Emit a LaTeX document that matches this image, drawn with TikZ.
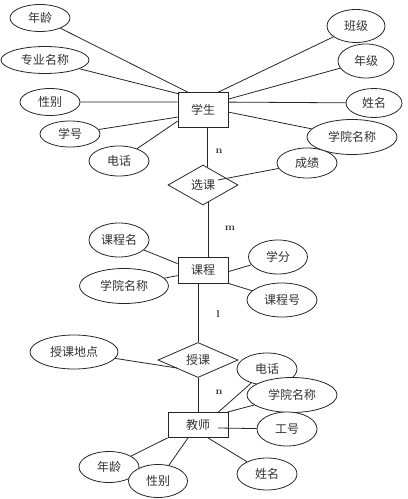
\documentclass[tikz,border=0pt]{standalone}
\usepackage{fontspec}
\newfontfamily\cjk{Noto Sans CJK SC}
\usetikzlibrary{shapes.geometric,calc,backgrounds}
\begin{document}
\begin{tikzpicture}[x=0.75pt,y=-0.75pt,
  every node/.style={inner sep=0pt, text=black!80},
  attr/.style={ellipse, draw=black!85, fill=white, line width=0.6pt, font=\cjk\fontsize{9}{9}\selectfont},
  ent/.style={rectangle, draw=black!85, line width=0.6pt, font=\cjk\fontsize{9}{9}\selectfont},
  rel/.style={diamond, draw=black!85, line width=0.6pt, font=\cjk\fontsize{9}{9}\selectfont},
  conn/.style={draw=black!85, line width=0.6pt},
  lbl/.style={font=\bfseries\fontsize{7.5}{7.5}\selectfont}]
\useasboundingbox (0,0) rectangle (407,499);

% entities
\node[ent, minimum width=37.5pt, minimum height=26.25pt] (S) at (203,110) {学生};
\node[ent, minimum width=37.5pt, minimum height=19.5pt] (K) at (203,270) {课程};
\node[ent, minimum width=45pt, minimum height=18.75pt] (T) at (198,425) {教师};
% relationships
\node[rel, minimum width=52.5pt, minimum height=30pt] (XK) at (203,185) {选课};
\node[rel, minimum width=60pt, minimum height=25.5pt] (SK) at (198,360) {授课};

% student attributes
\node[attr, minimum width=45pt, minimum height=20.25pt] (a1) at (40,18) {年龄};
\node[attr, minimum width=66pt, minimum height=20.25pt] (a2) at (45,60) {专业名称};
\node[attr, minimum width=45pt, minimum height=20.25pt] (a3) at (50,102) {性别};
\node[attr, minimum width=45pt, minimum height=19.5pt] (a4) at (70,134) {学号};
\node[attr, minimum width=45pt, minimum height=22.5pt] (a5) at (119,161) {电话};
\node[attr, minimum width=43.5pt, minimum height=24.75pt] (b1) at (356,26) {班级};
\node[attr, minimum width=42pt, minimum height=25.5pt] (b2) at (366,61) {年级};
\node[attr, minimum width=42pt, minimum height=21.75pt] (b3) at (374,103) {姓名};
\node[attr, minimum width=67.5pt, minimum height=26.25pt] (b4) at (352,137) {学院名称};
\node[attr, minimum width=45pt, minimum height=22.5pt] (b5) at (307,163) {成绩};

% course attributes
\node[attr, minimum width=45pt, minimum height=25.5pt] (c1) at (119,240) {课程名};
\node[attr, minimum width=66.75pt, minimum height=26.25pt] (c2) at (124,286) {学院名称};
\node[attr, minimum width=44.25pt, minimum height=25.5pt] (c3) at (278,257) {学分};
\node[attr, minimum width=52.5pt, minimum height=25.5pt] (c4) at (282,300) {课程号};

% teaching attribute
\node[attr, minimum width=66pt, minimum height=25.5pt] (d1) at (74,352) {授课地点};

% teacher attributes
\node[attr, minimum width=45pt, minimum height=24pt] (e1) at (267,369) {电话};
\node[attr, minimum width=67.5pt, minimum height=26.25pt] (e2) at (292,395) {学院名称};
\node[attr, minimum width=45pt, minimum height=25.5pt] (e3) at (287,429) {工号};
\node[attr, minimum width=45pt, minimum height=24pt] (e4) at (267,474) {姓名};
\node[attr, minimum width=45pt, minimum height=23.25pt] (e5) at (109,467) {年龄};
\node[attr, minimum width=44.25pt, minimum height=24.75pt] (e6) at (158,481) {性别};

% cardinality labels
\node[lbl] (n1) at (219,151) {n};
\node[lbl] (m1) at (230,228) {m};
\node[lbl] (l1) at (218,314) {l};
\node[lbl] (n2) at (219,392) {n};

\begin{scope}[on background layer]
% student
\draw[conn] (a1) -- ($(S.north west)+(10,0)$);
\draw[conn] (a2) -- ($(S.north west)+(2,2)$);
\draw[conn] (a3) -- ($(S.north west)+(0,10)$);
\draw[conn] (a4) -- ($(S.north west)+(0,25)$);
\draw[conn] (a5) -- ($(S.north west)+(0,29)$);
\draw[conn] (b1) -- ($(S.north east)+(-10,0)$);
\draw[conn] (b2) -- ($(S.north east)+(0,7)$);
\draw[conn] (b3) -- ($(S.north east)+(0,10)$);
\draw[conn] (b4) -- ($(S.north east)+(0,20)$);
\draw[conn] (b5) -- ($(XK.center)+(15,-5)$);
% relationships
\draw[conn] ($(S.south)+(4,0)$) -- ($(XK.north)+(4,2)$);
\draw[conn] ($(XK.south)+(5,-3)$) -- ($(K.north)+(5,0)$);
\draw[conn] ($(K.south)+(-5,0)$) -- (SK.north);
\draw[conn] (SK.south) -- (T.north);
% course
\draw[conn] (c1) -- ($(K.north west)+(0,7)$);
\draw[conn] (c2) -- ($(K.north west)+(0,19)$);
\draw[conn] (c3) -- ($(K.north east)+(0,15)$);
\draw[conn] (c4) -- (K.south east);
% teaching place
\draw[conn] (d1) -- ($(SK.center)+(-21,8)$);
% teacher
\draw[conn] (e1) -- ($(T.north east)+(-10,0)$);
\draw[conn] (e2) -- ($(T.north east)+(-1,0)$);
\draw[conn] (e3) -- ($(T.center)+(20,3)$);
\draw[conn] (e4) -- ($(T.south)+(10,0)$);
\draw[conn] (e5) -- (T.south west);
\draw[conn] (e6) -- ($(T.south)+(-10,0)$);
\end{scope}
\end{tikzpicture}
\end{document}
